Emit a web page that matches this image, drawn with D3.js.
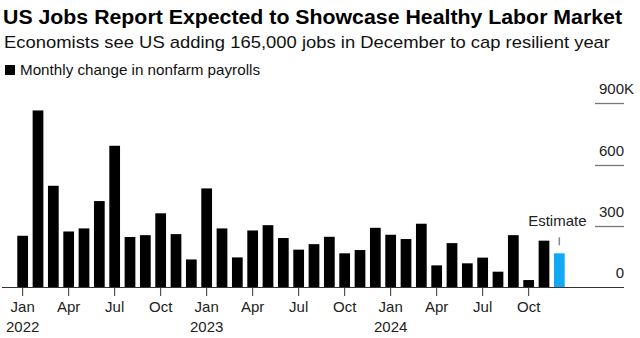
<!DOCTYPE html>
<head>
    <meta charset="utf-8">
    <script src="https://d3js.org/d3.v7.min.js"></script>
    <style>
        body { margin: 0; background: #fff; }
        svg { display: block; font-family: "Liberation Sans", Arial, sans-serif; }
    </style>
</head>
<body>
    <svg width="640" height="338"></svg>
    <script>
        // monthly change in nonfarm payrolls, thousands
        var months = [
            "2022-01", "2022-02", "2022-03", "2022-04", "2022-05", "2022-06",
            "2022-07", "2022-08", "2022-09", "2022-10", "2022-11", "2022-12",
            "2023-01", "2023-02", "2023-03", "2023-04", "2023-05", "2023-06",
            "2023-07", "2023-08", "2023-09", "2023-10", "2023-11", "2023-12",
            "2024-01", "2024-02", "2024-03", "2024-04", "2024-05", "2024-06",
            "2024-07", "2024-08", "2024-09", "2024-10", "2024-11", "2024-12"
        ];
        var payrolls = [
            251, 865, 496, 272, 287, 421, 692, 245, 254, 361, 259, 135,
            483, 287, 145, 277, 303, 240, 183, 210, 246, 165, 181, 290,
            256, 235, 310, 106, 215, 116, 144, 75, 254, 34, 227, 165
        ];
        var estimateMonths = ["2024-12"];
        var tickMonths = {"01": "Jan", "04": "Apr", "07": "Jul", "10": "Oct"};
        var yTicks = [0, 300, 600, 900];

        var svg = d3.select("svg");

        var x = d3.scaleBand()
            .domain(months)
            .range([15, 567])
            .paddingInner(0.3)
            .paddingOuter(0.15);

        var y = d3.scaleLinear()
            .domain([0, 900])
            .range([287, 103.3]);

        function fitText(sel, w) {
            sel.attr("textLength", w).attr("lengthAdjust", "spacingAndGlyphs");
        }

        // header
        svg.append("text")
            .attr("x", 3).attr("y", 24)
            .attr("font-size", 20).attr("font-weight", "bold").attr("fill", "#000")
            .text("US Jobs Report Expected to Showcase Healthy Labor Market")
            .call(fitText, 619);

        svg.append("text")
            .attr("x", 4).attr("y", 48)
            .attr("font-size", 17).attr("fill", "#111")
            .text("Economists see US adding 165,000 jobs in December to cap resilient year")
            .call(fitText, 606);

        svg.append("rect")
            .attr("x", 5).attr("y", 65).attr("width", 10).attr("height", 10)
            .attr("fill", "#000");
        svg.append("text")
            .attr("x", 20).attr("y", 75)
            .attr("font-size", 14.5).attr("fill", "#111")
            .text("Monthly change in nonfarm payrolls")
            .call(fitText, 240);

        // y gridline stubs and labels on the right
        var yg = svg.append("g");
        yg.selectAll("line")
            .data(yTicks.filter(d => d > 0))
            .enter().append("line")
            .attr("x1", 595).attr("x2", 624)
            .attr("y1", d => Math.round(y(d)) + 0.5)
            .attr("y2", d => Math.round(y(d)) + 0.5)
            .attr("stroke", "#777").attr("stroke-width", 1.3);

        yg.selectAll("text")
            .data(yTicks)
            .enter().append("text")
            .attr("x", 624)
            .attr("y", d => y(d) - 9)
            .attr("text-anchor", "end")
            .attr("font-size", 15).attr("fill", "#222")
            .text(d => d);
        svg.append("text")
            .attr("x", 624).attr("y", y(900) - 9)
            .attr("font-size", 15).attr("fill", "#222")
            .text("K");

        // bars
        svg.append("g")
            .selectAll("rect")
            .data(months)
            .enter().append("rect")
            .attr("x", d => x(d))
            .attr("width", x.bandwidth())
            .attr("y", (d, i) => y(payrolls[i]))
            .attr("height", (d, i) => y(0) - y(payrolls[i]))
            .attr("fill", d => estimateMonths.includes(d) ? "#13a8f5" : "#000");

        // baseline
        svg.append("line")
            .attr("x1", 2).attr("x2", 624)
            .attr("y1", 287.5).attr("y2", 287.5)
            .attr("stroke", "#333").attr("stroke-width", 1);

        // x ticks and labels
        var tickData = months.filter(m => tickMonths[m.slice(5)]);
        var xg = svg.append("g");
        xg.selectAll("line")
            .data(tickData)
            .enter().append("line")
            .attr("x1", d => x(d) + x.bandwidth() / 2)
            .attr("x2", d => x(d) + x.bandwidth() / 2)
            .attr("y1", 288).attr("y2", 296)
            .attr("stroke", "#333").attr("stroke-width", 1);

        xg.selectAll("text.month")
            .data(tickData)
            .enter().append("text")
            .attr("class", "month")
            .attr("x", d => x(d) + x.bandwidth() / 2)
            .attr("y", 312)
            .attr("text-anchor", "middle")
            .attr("font-size", 15).attr("fill", "#222")
            .text(d => tickMonths[d.slice(5)]);

        xg.selectAll("text.year")
            .data(tickData.filter(m => m.slice(5) === "01"))
            .enter().append("text")
            .attr("class", "year")
            .attr("x", d => x(d) + x.bandwidth() / 2)
            .attr("y", 332)
            .attr("text-anchor", "middle")
            .attr("font-size", 15).attr("fill", "#222")
            .text(d => d.slice(0, 4));

        // estimate annotation
        estimateMonths.forEach(m => {
            var i = months.indexOf(m);
            var cx = x(m) + x.bandwidth() / 2;
            svg.append("line")
                .attr("x1", cx).attr("x2", cx)
                .attr("y1", y(payrolls[i]) - 16).attr("y2", y(payrolls[i]) - 8)
                .attr("stroke", "#888").attr("stroke-width", 1.5);
            svg.append("text")
                .attr("x", cx - 2).attr("y", 226)
                .attr("text-anchor", "middle")
                .attr("font-size", 15).attr("fill", "#222")
                .text("Estimate");
        });
    </script>
</body>
